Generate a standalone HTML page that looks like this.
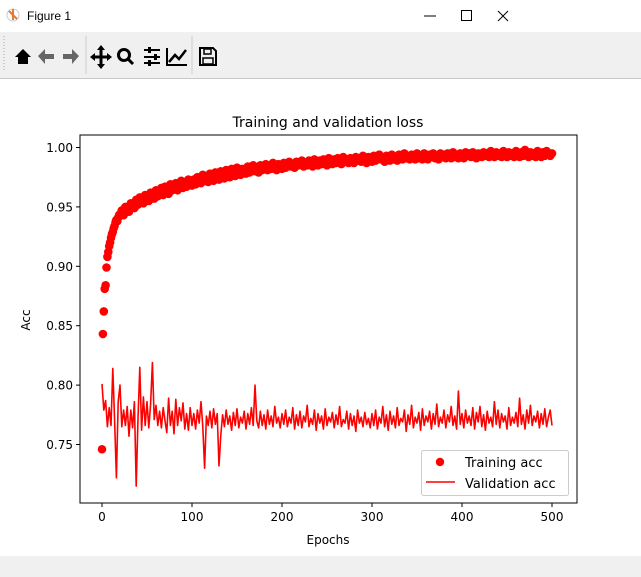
<!DOCTYPE html>
<html><head><meta charset="utf-8"><style>
body{margin:0;width:641px;height:577px;overflow:hidden;background:#fff;font-family:"DejaVu Sans","Liberation Sans",sans-serif;position:relative}
#titlebar{position:absolute;left:0;top:0;width:641px;height:32px;background:#fff}
#toolbar{position:absolute;left:0;top:32px;width:641px;height:46px;background:#f0f0f0;border-bottom:1px solid #c8c8c8}
#status{position:absolute;left:0;top:556px;width:641px;height:21px;background:#f0f0f0}
svg{position:absolute;left:0;top:0}
</style></head><body>
<div id="titlebar"></div>
<div id="toolbar"></div>
<div id="status"></div>
<svg id="svg" width="641" height="577" xmlns="http://www.w3.org/2000/svg" font-family="DejaVu Sans, Liberation Sans, sans-serif">
 <g><circle cx="13" cy="15" r="6" fill="#fff" stroke="#ccc"/><path d="M9 11 L17 19 M13 9 L13 20" stroke="#e8782c" stroke-width="2"/></g>
 <text x="27" y="20" font-size="12" font-family="Liberation Sans, sans-serif">Figure 1</text>
 <line x1="424" y1="16" x2="436" y2="16" stroke="#000"/>
 <rect x="461.5" y="10.5" width="10" height="10" fill="none" stroke="#000"/>
 <path d="M498 11 L508 21 M508 11 L498 21" stroke="#000"/>
 <line x1="4" y1="36" x2="4" y2="72" stroke="#aaa" stroke-dasharray="1,2"/>
 <g><path d="M15 57 L23 49 L31 57 L28 57 L28 64 L18 64 L18 57 Z" fill="#000"/></g>
 <g><path d="M38 56 L45 49 L45 54 L54 54 L54 59 L45 59 L45 64 Z" fill="#666"/></g>
 <g><path d="M79 56 L72 49 L72 54 L63 54 L63 59 L72 59 L72 64 Z" fill="#666"/></g>
 <line x1="86" y1="36" x2="86" y2="74" stroke="#ccc"/>
 <g><path d="M101 47 L101 67 M93 57 L110 57" stroke="#000" stroke-width="3"/><path d="M97 50 L101 45 L105 50 Z M97 64 L101 69 L105 64 Z M95 53 L90 57 L95 61 Z M107 53 L112 57 L107 61 Z" fill="#000"/></g>
 <g><circle cx="124" cy="55" r="5.5" fill="none" stroke="#000" stroke-width="3"/><line x1="128" y1="59" x2="133" y2="64" stroke="#000" stroke-width="3"/></g>
 <g><path d="M144 50 L160 50 M144 57 L160 57 M144 63 L160 63" stroke="#000" stroke-width="2"/><rect x="148" y="47" width="3" height="6" fill="#000"/><rect x="154" y="54" width="3" height="6" fill="#000"/><rect x="148" y="60" width="3" height="6" fill="#000"/></g>
 <g><path d="M167 48 L167 65 L187 65" stroke="#000" stroke-width="2" fill="none"/><path d="M169 62 L175 55 L179 59 L186 50" stroke="#000" stroke-width="2.5" fill="none"/></g>
 <line x1="192" y1="36" x2="192" y2="74" stroke="#ccc"/>
 <g><path d="M200 48 L213 48 L216 51 L216 65 L200 65 Z" fill="none" stroke="#000" stroke-width="2"/><rect x="204" y="49" width="7" height="5" fill="none" stroke="#000" stroke-width="1.5"/><rect x="203" y="58" width="10" height="6" fill="none" stroke="#000" stroke-width="1.5"/></g>
 <text x="328" y="127" font-size="14" text-anchor="middle">Training and validation loss</text>
 <g id="plot"></g>
 <text x="30" y="320" font-size="12" text-anchor="middle" transform="rotate(-90 30 320)">Acc</text>
 <text x="328" y="544" font-size="12" text-anchor="middle">Epochs</text>
</svg>
<script>
const trainAcc=[0.746,0.843,0.862,0.881,0.884,0.899,0.908,0.912,0.917,0.920,0.924,0.927,0.929,0.932,0.934,0.937,0.939,0.938,0.941,0.943,0.944,
0.947,0.943,0.950,0.948,0.946,0.953,0.951,0.949,0.956,0.952,
0.958,0.954,0.953,0.960,0.956,0.955,0.962,0.958,0.957,0.964,
0.959,0.962,0.966,0.960,0.967,0.963,0.961,0.969,0.964,0.966,
0.970,0.964,0.968,0.972,0.966,0.971,0.967,0.973,0.969,0.968,
0.973,0.969,0.975,0.971,0.970,0.977,0.972,0.976,0.971,0.978,
0.974,0.972,0.979,0.975,0.973,0.980,0.976,0.974,0.981,0.977,
0.975,0.982,0.978,0.976,0.983,0.979,0.977,0.982,0.980,0.978,
0.984,0.979,0.982,0.985,0.980,0.983,0.979,0.985,0.981,0.983,
0.986,0.981,0.984,0.982,0.987,0.983,0.981,0.986,0.984,0.982,
0.987,0.983,0.985,0.988,0.984,0.986,0.983,0.988,0.985,0.987,
0.989,0.984,0.987,0.985,0.989,0.986,0.984,0.990,0.987,0.985,
0.989,0.986,0.990,0.987,0.985,0.991,0.988,0.986,0.990,0.987,
0.991,0.988,0.986,0.992,0.988,0.990,0.987,0.991,0.989,0.987,
0.992,0.989,0.991,0.988,0.993,0.989,0.987,0.992,0.990,0.988,
0.993,0.989,0.991,0.994,0.990,0.992,0.988,0.993,0.991,0.989,
0.994,0.990,0.992,0.989,0.994,0.991,0.990,0.995,0.991,0.993,
0.990,0.994,0.992,0.990,0.995,0.991,0.993,0.990,0.995,0.992,
0.990,0.994,0.992,0.995,0.991,0.993,0.990,0.995,0.992,0.994,
0.991,0.995,0.993,0.991,0.996,0.992,0.994,0.991,0.995,0.993,
0.991,0.996,0.993,0.995,0.992,0.996,0.993,0.991,0.995,0.994,
0.992,0.996,0.993,0.995,0.992,0.997,0.994,0.992,0.996,0.993,
0.995,0.992,0.997,0.994,0.992,0.996,0.993,0.995,0.992,0.997,
0.994,0.992,0.996,0.993,0.998,0.994,0.992,0.996,0.993,0.995,
0.992,0.997,0.994,0.992,0.996,0.993,0.997,0.994,0.993,0.995];
const valAcc=[0.801,0.779,0.787,0.765,0.781,0.766,0.814,0.770,0.722,0.786,
0.800,0.765,0.779,0.766,0.782,0.757,0.779,0.764,0.786,0.715,
0.772,0.815,0.762,0.790,0.766,0.786,0.764,0.784,0.819,0.771,
0.783,0.766,0.778,0.764,0.781,0.770,0.760,0.789,0.766,0.778,
0.759,0.788,0.766,0.781,0.770,0.785,0.763,0.776,0.762,0.781,
0.766,0.776,0.763,0.779,0.768,0.786,0.765,0.730,0.774,0.766,
0.778,0.764,0.780,0.767,0.776,0.732,0.758,0.775,0.765,0.779,
0.767,0.774,0.762,0.777,0.766,0.780,0.764,0.773,0.768,0.778,
0.763,0.776,0.767,0.781,0.766,0.800,0.770,0.764,0.778,0.766,
0.775,0.763,0.779,0.767,0.774,0.765,0.782,0.768,0.773,0.764,
0.776,0.767,0.779,0.765,0.773,0.768,0.781,0.763,0.775,0.766,
0.778,0.764,0.774,0.769,0.783,0.765,0.772,0.767,0.779,0.762,
0.776,0.768,0.774,0.763,0.780,0.766,0.773,0.769,0.777,0.764,
0.775,0.767,0.782,0.765,0.771,0.768,0.778,0.763,0.776,0.766,
0.774,0.761,0.779,0.768,0.773,0.765,0.777,0.767,0.772,0.764,
0.776,0.766,0.779,0.763,0.773,0.768,0.782,0.765,0.775,0.762,
0.778,0.767,0.774,0.764,0.781,0.766,0.772,0.769,0.779,0.761,
0.775,0.767,0.783,0.764,0.773,0.768,0.777,0.762,0.780,0.766,
0.774,0.769,0.778,0.763,0.776,0.767,0.784,0.765,0.773,0.768,
0.779,0.764,0.775,0.769,0.782,0.766,0.774,0.763,0.795,0.767,
0.776,0.764,0.779,0.768,0.774,0.766,0.781,0.763,0.777,0.769,
0.782,0.765,0.775,0.762,0.778,0.768,0.773,0.765,0.786,0.767,
0.779,0.764,0.776,0.769,0.774,0.763,0.781,0.766,0.773,0.768,
0.777,0.765,0.789,0.767,0.775,0.763,0.779,0.768,0.783,0.766,
0.774,0.769,0.778,0.764,0.776,0.767,0.780,0.765,0.773,0.779,
0.766];
const xTicks=[0,100,200,300,400,500];
const yTicks=[0.75,0.80,0.85,0.90,0.95,1.00];
const yTickLabels=["0.75","0.80","0.85","0.90","0.95","1.00"];

const L=80,R=577,T=135,B=503;
const xs=e=>102+e*0.9;
const ys=v=>147.5+(1-v)*1188;
const NS="http://www.w3.org/2000/svg";
const g=document.getElementById('plot');
function mk(tag,attrs,parent){const el=document.createElementNS(NS,tag);for(const k in attrs)el.setAttribute(k,attrs[k]);(parent||g).appendChild(el);return el;}

const trainEpochs=trainAcc.map((_,i)=>i<=20?i:20+(i-20)*2);
const valEpochs=valAcc.map((_,i)=>i*2);

const tg=mk('g',{});


trainAcc.forEach((v,i)=>{
  const c=mk('circle',{cx:xs(trainEpochs[i]),cy:ys(v),r:4.3,fill:'#ff0000'},tg);
  
  
});
const vl=mk('polyline',{points:valAcc.map((v,i)=>xs(valEpochs[i])+','+ys(v)).join(' '),fill:'none',stroke:'#ff0000','stroke-width':1.6,'stroke-linejoin':'round'});



const frame=mk('rect',{x:L,y:T,width:R-L,height:B-T,fill:'none',stroke:'#000','stroke-width':1});



xTicks.forEach(t=>{
  const x=xs(t);
  mk('line',{x1:x,y1:B,x2:x,y2:B+4,stroke:'#000'});
  const tx=mk('text',{x:x,y:B+18,'font-size':12,'text-anchor':'middle'});
  tx.textContent=t;
  
  
});
yTicks.forEach((t,i)=>{
  const y=ys(t);
  mk('line',{x1:L-4,y1:y,x2:L,y2:y,stroke:'#000'});
  const tx=mk('text',{x:L-7,y:y+4.5,'font-size':12,'text-anchor':'end'});
  tx.textContent=yTickLabels[i];
  
  
});

const lg=mk('g',{});


mk('rect',{x:421.5,y:450.5,width:147,height:45,rx:2,fill:'#fff','fill-opacity':0.8,stroke:'#ccc'},lg);
mk('circle',{cx:440,cy:462,r:4.2,fill:'#ff0000'},lg);
const l1=mk('text',{x:465,y:467,'font-size':13},lg);l1.textContent='Training acc';


mk('line',{x1:426,y1:482,x2:455,y2:482,stroke:'#ff0000','stroke-width':1.5},lg);
const l2=mk('text',{x:465,y:488,'font-size':13},lg);l2.textContent='Validation acc';


</script>
</body></html>
